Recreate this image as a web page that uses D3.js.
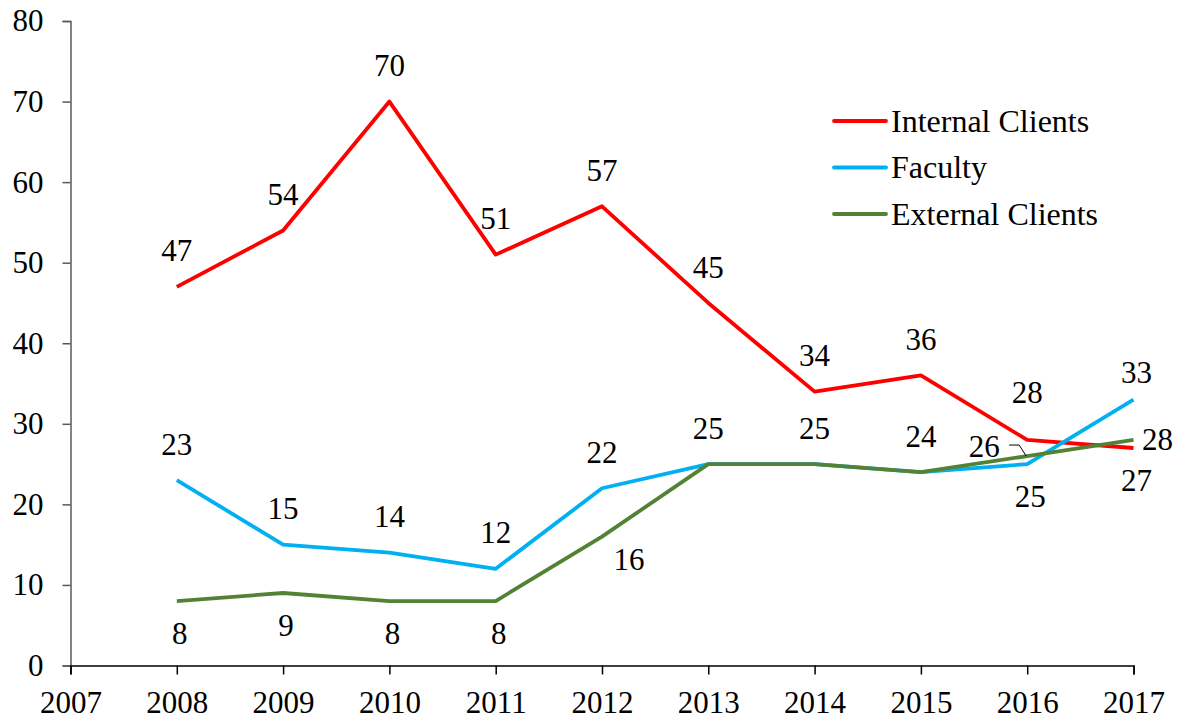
<!DOCTYPE html>
<html><head><meta charset="utf-8">
<script src="https://cdn.jsdelivr.net/npm/d3@7"></script>
<style>body{margin:0;background:#fff}svg{display:block}svg text{font-family:"Liberation Serif","Times New Roman",serif !important;fill:#000}</style>
</head><body><svg id="c" width="1184" height="719"></svg>
<script>
const years = [2008,2009,2010,2011,2012,2013,2014,2015,2016,2017];
const internalClients = [47,54,70,51,57,45,34,36,28,27];
const faculty = [23,15,14,12,22,25,25,24,25,33];
const externalClients = [8,9,8,8,16,25,25,24,26,28];
const xTicks = [2007,2008,2009,2010,2011,2012,2013,2014,2015,2016,2017];
const yTicks = [0,10,20,30,40,50,60,70,80];
// label placement codes: a=above, A=higher above, s=slightly above, b=below, br=below-right, l=left with leader, r=right, n=hidden
const intPos = ["a","a","a","a","a","a","a","a","A","b"];
const facPos = ["a","a","a","a","a","a","a","a","b","s"];
const extPos = ["b","b","b","b","br","n","n","n","l","r"];

const FONT = "Liberation Serif";
const svg = d3.select("#c");
const x = d3.scaleLinear().domain([2007,2017]).range([70.5,1133.5]);
const y = d3.scaleLinear().domain([0,80]).range([665.5,21]);

// y axis
const ya = svg.append("g").attr("transform","translate(70.5,0)")
  .call(d3.axisLeft(y).tickValues(yTicks).tickSize(8).tickPadding(19).tickFormat(d3.format("d")));
ya.attr("font-family",FONT).attr("font-size",31);
ya.select(".domain").attr("stroke","#595959").attr("stroke-width",1.5);
ya.selectAll(".tick line").attr("stroke","#595959").attr("stroke-width",1.5);
ya.selectAll("text").attr("fill","#000");

// x axis
const xa = svg.append("g").attr("transform","translate(0,665.5)")
  .call(d3.axisBottom(x).tickValues(xTicks).tickSize(9).tickPadding(16).tickFormat(d3.format("d")));
xa.attr("font-family",FONT).attr("font-size",31);
xa.select(".domain").attr("stroke","#000").attr("stroke-width",1.5);
xa.selectAll(".tick line").attr("stroke","#000").attr("stroke-width",1.5);
xa.selectAll("text").attr("fill","#000");

const series = [
  {name:"Internal Clients", vals:internalClients, color:"#FF0000", pos:intPos},
  {name:"Faculty", vals:faculty, color:"#00B0F0", pos:facPos},
  {name:"External Clients", vals:externalClients, color:"#548235", pos:extPos}
];
const line = d3.line().x((d,i)=>x(years[i])).y(d=>y(d));
series.forEach(s=>{
  svg.append("path").datum(s.vals).attr("d",line).attr("fill","none")
    .attr("stroke",s.color).attr("stroke-width",3.8).attr("stroke-linejoin","round");
});

// leader line for 2016 external label
const lx = x(2016), ly = y(26);
svg.append("path").attr("d",`M${lx-18},${ly-11} L${lx-8},${ly-11} L${lx-1},${ly}`)
  .attr("fill","none").attr("stroke","#000").attr("stroke-width",1);

series.forEach(s=>{
  s.vals.forEach((v,i)=>{
    const p = s.pos[i]; if(p==="n") return;
    let tx = x(years[i]), ty = y(v), anchor="middle";
    if(p==="a") ty -= 36;
    else if(p==="A") ty -= 47;
    else if(p==="s"){ ty -= 27; tx += 3; }
    else if(p==="b"){ ty += 32; tx += 3; }
    else if(p==="br"){ ty += 22.5; tx += 27; }
    else if(p==="l"){ tx -= 27.5; ty -= 10; anchor="end"; }
    else if(p==="r"){ tx += 8.5; anchor="start"; }
    svg.append("text").attr("x",tx).attr("y",ty).attr("dy","0.34em")
      .attr("text-anchor",anchor).attr("font-family",FONT).attr("font-size",31).text(v);
  });
});

// legend
const lg = svg.append("g");
series.forEach((s,i)=>{
  const yy = 121 + i*46.5;
  lg.append("line").attr("x1",834).attr("x2",886).attr("y1",yy).attr("y2",yy)
    .attr("stroke",s.color).attr("stroke-width",3.8).attr("stroke-linecap","round");
  lg.append("text").attr("x",891).attr("y",yy).attr("dy","0.34em")
    .attr("font-family",FONT).attr("font-size",32).text(s.name);
});
</script></body></html>
